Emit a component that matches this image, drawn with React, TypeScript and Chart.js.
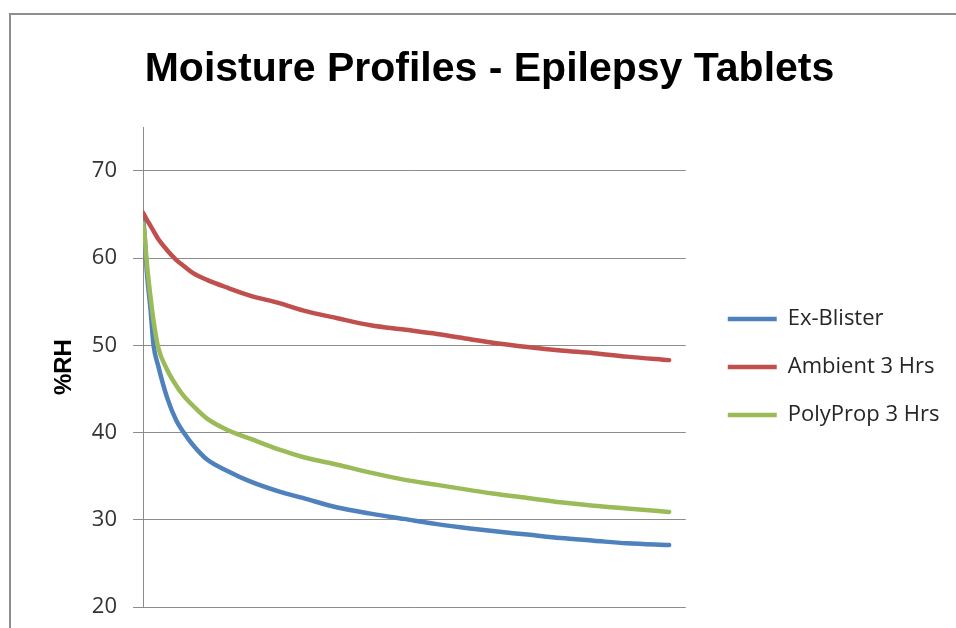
import React, { useEffect, useRef } from 'react';
import { Chart, registerables } from 'chart.js';

Chart.register(...registerables);

// Elapsed time (arbitrary axis units, axis spans 0..36)
const hours = [0, 0.1, 0.25, 0.5, 0.7, 1.0, 1.6, 2.2, 2.7, 3.3, 4.25, 5.6, 7.1, 9.1, 10.6, 12.9, 15.1, 17.3, 19.5, 21.7, 23.2, 25.5, 27.7, 29.9, 32.1, 34.9];
const exBlister = [64.8, 62.8, 58.5, 54.1, 50.0, 47.7, 44.0, 41.4, 40.0, 38.6, 36.9, 35.6, 34.4, 33.2, 32.5, 31.4, 30.7, 30.1, 29.5, 29.0, 28.7, 28.3, 27.9, 27.6, 27.3, 27.1];
const ambient3Hrs = [65.2, 64.9, 64.4, 63.7, 63.1, 62.2, 60.9, 59.8, 59.1, 58.3, 57.5, 56.6, 55.7, 54.8, 54.0, 53.1, 52.3, 51.8, 51.3, 50.7, 50.3, 49.8, 49.4, 49.1, 48.7, 48.3];
const polyProp3Hrs = [64.0, 62.8, 59.5, 55.5, 52.8, 49.8, 47.2, 45.4, 44.2, 43.1, 41.6, 40.3, 39.3, 38.0, 37.2, 36.3, 35.4, 34.6, 34.0, 33.4, 33.0, 32.5, 32.0, 31.6, 31.3, 30.9];

const seriesNames = ['Ex-Blister', 'Ambient 3 Hrs', 'PolyProp 3 Hrs'];
const seriesValues = [exBlister, ambient3Hrs, polyProp3Hrs];
const seriesColors = ['#4F81BD', '#C0504D', '#9BBB59'];
const yTicksShown = [20, 30, 40, 50, 60, 70];

const layoutShift = {
  id: 'layoutShift',
  afterLayout(chart: any) {
    const l = chart.legend;
    if (l) {
      l.left += 16;
      l.right = chart.width;
    }
    const t = chart.titleBlock;
    if (t) {
      t.left += 25;
      t.right += 25;
    }
  },
};

export default function App() {
  const ref = useRef<HTMLCanvasElement | null>(null);

  useEffect(() => {
    if (!ref.current) return;
    const datasets = seriesNames.map((name, i) => ({
      label: name,
      data: hours.map((h, j) => ({ x: h, y: seriesValues[i][j] })),
      borderColor: seriesColors[i],
      backgroundColor: seriesColors[i],
      borderWidth: 4.5,
      borderCapStyle: 'round' as const,
      borderJoinStyle: 'round' as const,
      pointRadius: 0,
      pointHoverRadius: 0,
      pointStyle: 'line' as const,
      cubicInterpolationMode: 'monotone' as const,
      order: 3 - i,
    }));

    const chart = new Chart(ref.current, {
      type: 'line',
      data: { datasets },
      plugins: [layoutShift],
      options: {
        responsive: false,
        animation: false,
        layout: { padding: { left: 22, right: 49, top: 0, bottom: 21 } },
        plugins: {
          tooltip: { enabled: false },
          title: {
            display: true,
            text: 'Moisture Profiles - Epilepsy Tablets',
            color: '#000',
            font: { family: "'Liberation Sans', Arial, sans-serif", size: 41, weight: 'bold', lineHeight: 1.2 },
            padding: { top: 45, bottom: 33 },
          },
          legend: {
            position: 'right',
            fullSize: false,
            labels: {
              usePointStyle: true,
              pointStyleWidth: 49,
              padding: 26,
              color: '#262626',
              font: { family: "'Open Sans', sans-serif", size: 22 },
              sort: (a: any, b: any) => a.datasetIndex - b.datasetIndex,
            },
          },
        },
        scales: {
          x: {
            type: 'linear',
            min: 0,
            max: 36,
            display: false,
          },
          y: {
            min: 20,
            max: 75,
            afterBuildTicks: (axis: any) => {
              axis.ticks = axis.ticks.filter((t: any) => yTicksShown.includes(t.value));
            },
            afterFit: (axis: any) => {
              axis.width = 121;
              axis.paddingTop = 0;
              axis.paddingBottom = 0;
            },
            ticks: {
              stepSize: 10,
              padding: 16,
              color: '#333',
              font: { family: "'Open Sans', sans-serif", size: 22 },
            },
            grid: { color: '#8c8c8c', lineWidth: 1, tickLength: 10, drawTicks: true },
            border: { display: true, color: '#8c8c8c', width: 1 },
            title: {
              display: true,
              text: '%RH',
              color: '#000',
              font: { family: "'Liberation Sans', Arial, sans-serif", size: 24, weight: 'bold', lineHeight: 1.2 },
              padding: { top: 28, bottom: 0 },
            },
          },
        },
      },
    });
    return () => chart.destroy();
  }, []);

  return (
    <div>
      <div
        style={{
          position: 'fixed',
          left: 9,
          top: 13,
          width: 1000,
          height: 1000,
          border: '2px solid #8e8e8e',
          boxSizing: 'border-box',
        }}
      />
      <div style={{ position: 'fixed', left: 0, top: 0, width: 956, height: 628 }}>
        <canvas ref={ref} width={956} height={628} style={{ display: 'block' }} />
      </div>
    </div>
  );
}
